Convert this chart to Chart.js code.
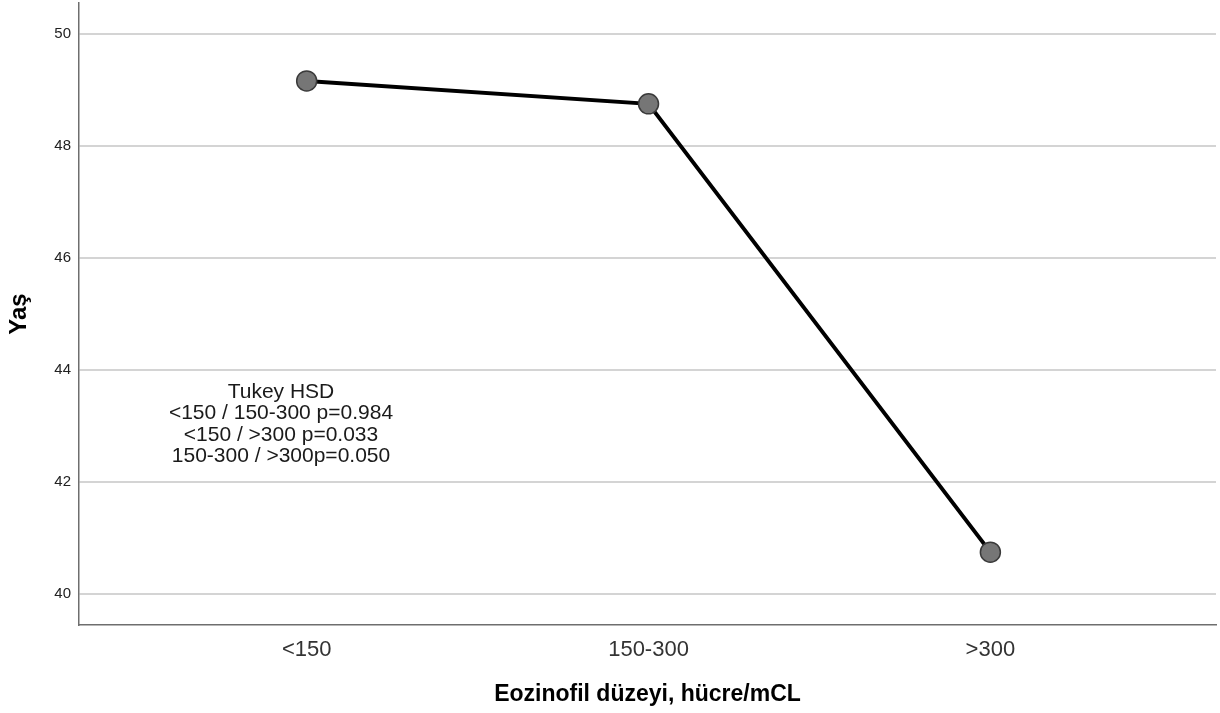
<!DOCTYPE html>
<html lang="tr">
<head>
    <meta charset="UTF-8">
    <title>Yaş - Eozinofil düzeyi</title>
    <script src="https://cdn.jsdelivr.net/npm/chart.js"></script>
    <style>
        body {
            margin: 0;
            background: white;
        }
        #wrap {
            width: 1220px;
            height: 713px;
        }
    </style>
</head>
<body>
    <div id="wrap"><canvas id="ageChart"></canvas></div>

    <script>
        // values
        const categories = ['<150', '150-300', '>300'];
        const ageMeans = [49.16, 48.75, 40.75];
        const yTicks = [40, 42, 44, 46, 48, 50];
        const noteLines = [
            'Tukey HSD',
            '<150 / 150-300 p=0.984',
            '<150 / >300 p=0.033',
            '150-300 / >300p=0.050'
        ];

        const fontFamily = "'Liberation Sans', Arial, sans-serif";

        // draws the Tukey HSD note inside the plot
        const notePlugin = {
            id: 'note',
            afterDraw(chart) {
                const ctx = chart.ctx;
                const area = chart.chartArea;
                ctx.save();
                ctx.font = '21px ' + fontFamily;
                ctx.fillStyle = '#1a1a1a';
                ctx.textAlign = 'center';
                ctx.textBaseline = 'middle';
                const cx = area.left + 202;
                let y = 392;
                noteLines.forEach(line => {
                    ctx.fillText(line, cx, y);
                    y += 21.5;
                });
                ctx.restore();
            }
        };

        const ctx = document.getElementById('ageChart').getContext('2d');
        const myChart = new Chart(ctx, {
            type: 'line',
            data: {
                datasets: [{
                    label: 'Yaş',
                    data: ageMeans.map((v, i) => ({ x: i, y: v })),
                    borderColor: '#000000',
                    borderWidth: 4,
                    pointRadius: 10,
                    pointHoverRadius: 10,
                    pointBackgroundColor: '#767676',
                    pointBorderColor: '#3a3a3a',
                    pointBorderWidth: 1.5,
                    tension: 0,
                    clip: false
                }]
            },
            options: {
                responsive: true,
                maintainAspectRatio: false,
                animation: false,
                layout: {
                    autoPadding: false,
                    padding: { top: 3, right: 4, left: 0, bottom: 0 }
                },
                plugins: {
                    legend: { display: false },
                    tooltip: { enabled: false }
                },
                scales: {
                    x: {
                        type: 'linear',
                        min: -0.666,
                        max: 2.66,
                        afterBuildTicks: scale => {
                            scale.ticks = categories.map((c, i) => ({ value: i }));
                        },
                        afterFit: scale => {
                            scale.height = 88;
                            scale.paddingLeft = 0;
                            scale.paddingRight = 0;
                        },
                        grid: { display: false, drawTicks: false },
                        border: { display: true, color: '#6e6e6e', width: 1.5 },
                        ticks: {
                            padding: 12,
                            color: '#333333',
                            font: { family: fontFamily, size: 22 },
                            callback: value => categories[value]
                        },
                        title: {
                            display: true,
                            text: 'Eozinofil düzeyi, hücre/mCL',
                            color: '#000000',
                            font: { family: fontFamily, size: 23, weight: 'bold' },
                            padding: { top: 0, bottom: 5 }
                        }
                    },
                    y: {
                        type: 'linear',
                        min: 39.45,
                        max: 50.55,
                        afterBuildTicks: scale => {
                            scale.ticks = yTicks.map(v => ({ value: v }));
                        },
                        afterFit: scale => {
                            scale.width = 79;
                            scale.paddingTop = 0;
                            scale.paddingBottom = 0;
                        },
                        grid: { color: '#d4d4d4', lineWidth: 2, drawTicks: false },
                        border: { display: true, color: '#6e6e6e', width: 1.5 },
                        ticks: {
                            padding: 8,
                            color: '#222222',
                            font: { family: fontFamily, size: 15 }
                        },
                        title: {
                            display: true,
                            text: 'Yaş',
                            color: '#000000',
                            font: { family: fontFamily, size: 24, weight: 'bold' },
                            padding: { top: 5, bottom: 0 }
                        }
                    }
                }
            },
            plugins: [notePlugin]
        });
    </script>
</body>
</html>
